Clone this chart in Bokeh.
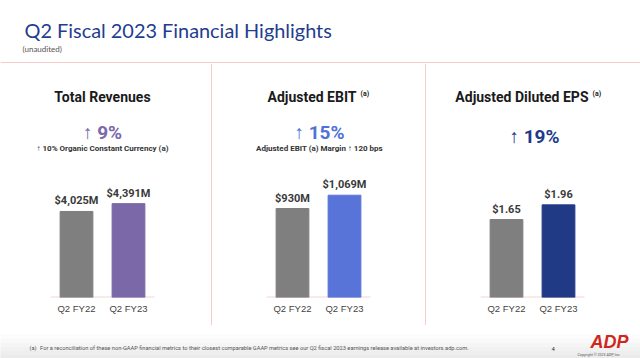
from bokeh.plotting import figure
from bokeh.models import FactorRange, Range1d, Label, ColumnDataSource, Span, Spacer
from bokeh.layouts import column, row
from bokeh.embed import file_html
from bokeh.resources import INLINE

# ---------------- data ----------------
categories = ["Q2 FY22", "Q2 FY23"]
revenue_m = [4025, 4391]
ebit_m = [930, 1069]
eps_usd = [1.65, 1.96]
revenue_labels = ["$4,025M", "$4,391M"]
ebit_labels = ["$930M", "$1,069M"]
eps_labels = ["$1.65", "$1.96"]
panel_titles = ["Total Revenues", "Adjusted EBIT", "Adjusted Diluted EPS"]
growth_labels = ["\u2191 9%", "\u2191 15%", "\u2191 19%"]
sub_labels = ["\u2191 10% Organic Constant Currency (a)",
              "Adjusted EBIT (a) Margin \u2191 120 bps", ""]
main_title = "Q2 Fiscal 2023 Financial Highlights"
footnote = ("For a reconciliation of these non-GAAP financial metrics to their closest "
            "comparable GAAP metrics see our Q2 fiscal 2023 earnings release available "
            "at investors.adp.com.")

FONT = "Roboto"
PINK = "#f5cccc"
GRAY = "#7f7f7f"


def base_fig(w, h, **kw):
    p = figure(width=w, height=h, toolbar_location=None, output_backend="svg",
               x_axis_location=None, y_axis_location=None, min_border=0,
               outline_line_color=None, background_fill_color="white",
               border_fill_color="white", **kw)
    p.xgrid.visible = False
    p.ygrid.visible = False
    return p


# ---------------- header ----------------
hdr = base_fig(640, 64, x_range=Range1d(0, 640), y_range=Range1d(0, 64))
hdr.add_layout(Label(x=24, y=34.5, text=main_title, text_font="Lato",
                     text_font_size="19.9px", text_color="#1f3d8f",
                     text_baseline="middle"))
hdr.add_layout(Label(x=22, y=16, text="(unaudited)", text_font="Lato", text_font_size="8px",
                     text_color="#555555", text_baseline="middle"))
hdr.add_layout(Span(location=2, dimension="width", line_color=PINK, line_width=1))


# ---------------- panels ----------------
def panel(i, vals, labels, bar_color, pct_color, width, left, y_end,
          cx, pct_y, sup_x=None):
    p = figure(width=width, height=261, toolbar_location=None, output_backend="svg",
               x_range=FactorRange(*categories, range_padding=0.923,
                                   range_padding_units="absolute"),
               y_range=Range1d(0, y_end),
               y_axis_location=None, min_border_left=left,
               min_border_right=width - left - 200, min_border_top=0,
               min_border_bottom=28, outline_line_color=None,
               background_fill_color="white", border_fill_color="white")
    p.xgrid.visible = False
    p.ygrid.visible = False
    ax = p.xaxis[0]
    ax.axis_line_color = None
    ax.major_tick_line_color = None
    ax.minor_tick_line_color = None
    ax.major_tick_out = 0
    ax.major_tick_in = 0
    ax.major_label_standoff = 5
    ax.major_label_text_font = "Liberation Sans"
    ax.major_label_text_font_size = "9.5px"
    ax.major_label_text_color = "#444444"

    # pink baseline under the two bars (spans the two category slots)
    p.segment(x0=[0], y0=[0], x1=[2], y1=[0], line_color="#f5d3d3", line_width=2)

    src = ColumnDataSource(dict(cat=categories, val=vals, lab=labels,
                                color=[GRAY, bar_color]))
    p.vbar(x="cat", top="val", width=0.63, fill_color="color", line_color="color",
           source=src)
    p.text(x="cat", y="val", text="lab", source=src, text_align="center",
           text_baseline="bottom", y_offset=-4, text_font_size="11px",
           text_font_style="bold", text_color="#3a3a3a",
           text_font={"value": FONT})

    ty = 201
    if sup_x is None:
        p.add_layout(Label(x=cx, y=ty, x_units="screen", y_units="screen",
                           text=panel_titles[i], text_align="center",
                           text_baseline="middle",
                           text_font=FONT, text_font_size="14px",
                           text_font_style="bold", text_color="#1a1a1a"))
    else:
        p.add_layout(Label(x=sup_x, y=ty, x_units="screen", y_units="screen",
                           text=panel_titles[i], text_align="right",
                           text_baseline="middle",
                           text_font=FONT, text_font_size="14px",
                           text_font_style="bold", text_color="#1a1a1a"))
        p.add_layout(Label(x=sup_x + 4, y=ty + 3, x_units="screen", y_units="screen",
                           text="(a)", text_align="left", text_baseline="middle",
                           text_font=FONT, text_font_size="7px",
                           text_font_style="bold", text_color="#1a1a1a"))
    p.add_layout(Label(x=cx, y=pct_y, x_units="screen", y_units="screen",
                       text=growth_labels[i], text_align="center",
                       text_baseline="middle",
                       text_font=FONT, text_font_size="19px",
                       text_font_style="bold", text_color=pct_color))
    if sub_labels[i]:
        p.add_layout(Label(x=cx, y=149, x_units="screen", y_units="screen",
                           text=sub_labels[i], text_align="center",
                           text_baseline="middle",
                           text_font=FONT, text_font_size="8px",
                           text_font_style="bold", text_color="#333333"))
    return p


p1 = panel(0, revenue_m, revenue_labels, "#7a68a8", "#7a68ab", 211, 2, 10900,
           cx=100, pct_y=165)
p2 = panel(1, ebit_m, ebit_labels, "#5874d8", "#4f72d8", 213, 6, 2435,
           cx=101, pct_y=165, sup_x=138)
p3 = panel(2, eps_usd, eps_labels, "#213a86", "#1e3a8a", 214, 6, 4.93,
           cx=102, pct_y=161.5, sup_x=156)


def sep():
    return Spacer(width=1, height=261, styles={"background-color": PINK})


# ---------------- footer ----------------
ftr = base_fig(640, 33, x_range=Range1d(0, 640), y_range=Range1d(0, 33))
band_bottom = [0, 4, 8, 12, 16, 20]
band_color = ["#ebebeb", "#eeeeee", "#f1f1f1", "#f5f5f5", "#f9f9f9", "#fcfcfc"]
ftr.quad(left=0, right=640, bottom=band_bottom, top=[b + 4 for b in band_bottom],
         color=band_color)
ftr.add_layout(Label(x=29, y=11, text="(a)", text_font=FONT, text_font_size="5.7px",
                     text_color="#555555", text_baseline="middle"))
ftr.add_layout(Label(x=39.6, y=11, text=footnote, text_font=FONT, text_font_size="5.7px",
                     text_color="#555555", text_baseline="middle"))
ftr.add_layout(Label(x=551, y=10, text="4", text_font=FONT, text_font_size="6px",
                     text_color="#333333", text_baseline="middle"))
ftr.add_layout(Label(x=590, y=16.5, text="ADP", text_font="Liberation Sans",
                     text_font_size="18px", text_font_style="bold italic",
                     text_color="#d0271d", text_baseline="middle"))
ftr.add_layout(Label(x=624, y=23, text="\u00ae", text_font="Liberation Sans",
                     text_font_size="4px", text_color="#d0271d", text_baseline="middle"))
ftr.add_layout(Label(x=577, y=4, text="Copyright \u00a9 2023 ADP, Inc.",
                     text_font=FONT, text_font_size="3.6px", text_color="#555555",
                     text_baseline="middle"))

layout = column(hdr, row(p1, sep(), p2, sep(), p3), ftr)

open("out.html", "w").write(file_html(layout, INLINE))
